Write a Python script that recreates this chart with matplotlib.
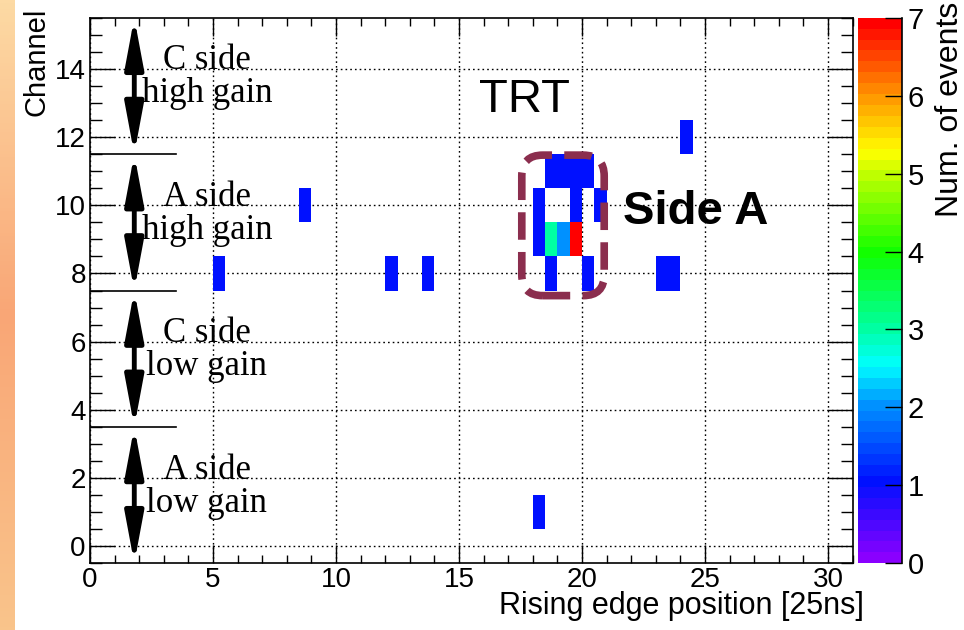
import matplotlib.pyplot as plt
import numpy as np
from matplotlib.colors import LinearSegmentedColormap
from matplotlib.patches import FancyBboxPatch
from matplotlib.ticker import MultipleLocator

# 信号のあったビン: 立ち上がり位置 [25ns], チャンネル, イベント数
rise_pos = [18.25,
            5.25, 12.25, 13.75, 18.75, 20.25, 23.25, 23.75,
            18.25, 18.75, 19.25, 19.75,
            8.75, 18.25, 19.75, 20.75,
            18.75, 19.25, 19.75, 20.25,
            24.25]
channel = [1,
           8, 8, 8, 8, 8, 8, 8,
           9, 9, 9, 9,
           10, 10, 10, 10,
           11, 11, 11, 11,
           12]
n_events = [1,
            1, 1, 1, 1, 1, 1, 1,
            1, 3, 2, 7,
            1, 1, 1, 1,
            1, 1, 1, 1,
            1]

group_labels = ["C side\nhigh gain", "A side\nhigh gain", "C side\nlow gain", "A side\nlow gain"]
group_bounds = [15.5, 11.5, 7.5, 3.5, -0.5]

# ROOTの旧デフォルトパレット風
palette = LinearSegmentedColormap.from_list(
    "root_pretty",
    [(0.0, "#8a00ff"), (0.143, "#0010ff"), (0.29, "#0095ff"), (0.36, "#00ffff"),
     (0.43, "#00ffa0"), (0.57, "#10ff00"), (0.71, "#b8ff00"), (0.76, "#ffff00"),
     (0.86, "#ff9900"), (1.0, "#ff0000")],
    N=50,
)

plt.rcParams["font.family"] = ["Liberation Sans", "DejaVu Sans"]

fig = plt.figure(figsize=(9.64, 6.30), dpi=100)

# 左端のスライド背景の帯
strip = fig.add_axes([0, 0, 15 / 964, 1])
grad = LinearSegmentedColormap.from_list("strip", ["#fddaa4", "#f9a676", "#f9c48b"])
strip.imshow(np.linspace(0, 1, 200).reshape(-1, 1), aspect="auto", cmap=grad)
strip.axis("off")

left, right = 90 / 964, 852.7 / 964
bottom, top = 1 - 563.3 / 630, 1 - 17.7 / 630
ax = fig.add_axes([left, bottom, right - left, top - bottom])

xedges = np.arange(0, 31.01, 0.5)
yedges = np.arange(-0.5, 15.6, 1)
h = ax.hist2d(rise_pos, channel, bins=[xedges, yedges], weights=n_events,
              cmap=palette, vmin=0, vmax=7, cmin=0.5, zorder=2)

ax.set_xlim(0, 31)
ax.set_ylim(-0.5, 15.5)
ax.xaxis.set_major_locator(MultipleLocator(5))
ax.xaxis.set_minor_locator(MultipleLocator(1))
ax.yaxis.set_major_locator(MultipleLocator(2))
ax.yaxis.set_minor_locator(MultipleLocator(0.5))
ax.tick_params(which="both", direction="in", top=True, right=True, width=1.0, labelsize=20)
ax.tick_params(axis="x", which="major", length=13, pad=3)
ax.tick_params(axis="x", which="minor", length=6)
ax.tick_params(axis="y", which="major", length=18, pad=3)
ax.tick_params(axis="y", which="minor", length=8.5)
for sp in ax.spines.values():
    sp.set_linewidth(1.2)
ax.grid(True, which="major", color="black", linestyle=(0, (1.2, 2.2)), linewidth=1.0, zorder=1)
ax.set_axisbelow(True)

# グループ分けの矢印と区切り線
for i, label in enumerate(group_labels):
    y_hi, y_lo = group_bounds[i], group_bounds[i + 1]
    ax.annotate("", xy=(1.8, y_hi), xytext=(1.8, y_lo),
                arrowprops=dict(arrowstyle="<|-|>,head_length=1.5,head_width=0.28",
                                color="black", lw=3.5, shrinkA=0, shrinkB=0,
                                mutation_scale=20), zorder=4)
    ax.text(4.75, (y_hi + y_lo) / 2 + 0.25, label, family=["Liberation Serif", "DejaVu Serif"],
            fontsize=25, ha="center", va="center", linespacing=1.0, zorder=5)
for yb in group_bounds[1:-1]:
    ax.plot([0, 3.5], [yb, yb], color="black", lw=1.2, zorder=4)

ax.text(17.65, 13.1, "TRT", fontsize=34, ha="center", va="center", zorder=5)
ax.text(24.6, 9.8, "Side A", fontsize=34, fontweight="bold", ha="center", va="center", zorder=5)

box = FancyBboxPatch((17.55, 7.35), 3.35, 4.12,
                     boxstyle="round,pad=0,rounding_size=0.85", mutation_aspect=0.72,
                     fill=False, edgecolor="#8b2e4e", lw=5.5,
                     linestyle=(0, (3.6, 1.6)), zorder=6)
ax.add_patch(box)

# カラーバー
cax = fig.add_axes([858 / 964, bottom, 44 / 964, top - bottom])
cb = fig.colorbar(h[3], cax=cax, ticks=range(0, 8))
cb.outline.set_visible(False)
cax.tick_params(direction="in", length=12, width=1.0, labelsize=21, right=True, left=False, pad=4)
cax.plot([1, 1], [0, 1], transform=cax.transAxes, color="black", lw=1.2, clip_on=False)

fig.text(36 / 964, 1 - 8 / 630, "Channel", rotation=90, fontsize=21, ha="center", va="top")
fig.text(864 / 964, 1 - 591 / 630, "Rising edge position [25ns]", fontsize=22, ha="right", va="top")
fig.text(950 / 964, 1 - 2 / 630, "Num. of events", rotation=90, fontsize=23, ha="center", va="top")

fig.savefig("out.png", dpi=100)
